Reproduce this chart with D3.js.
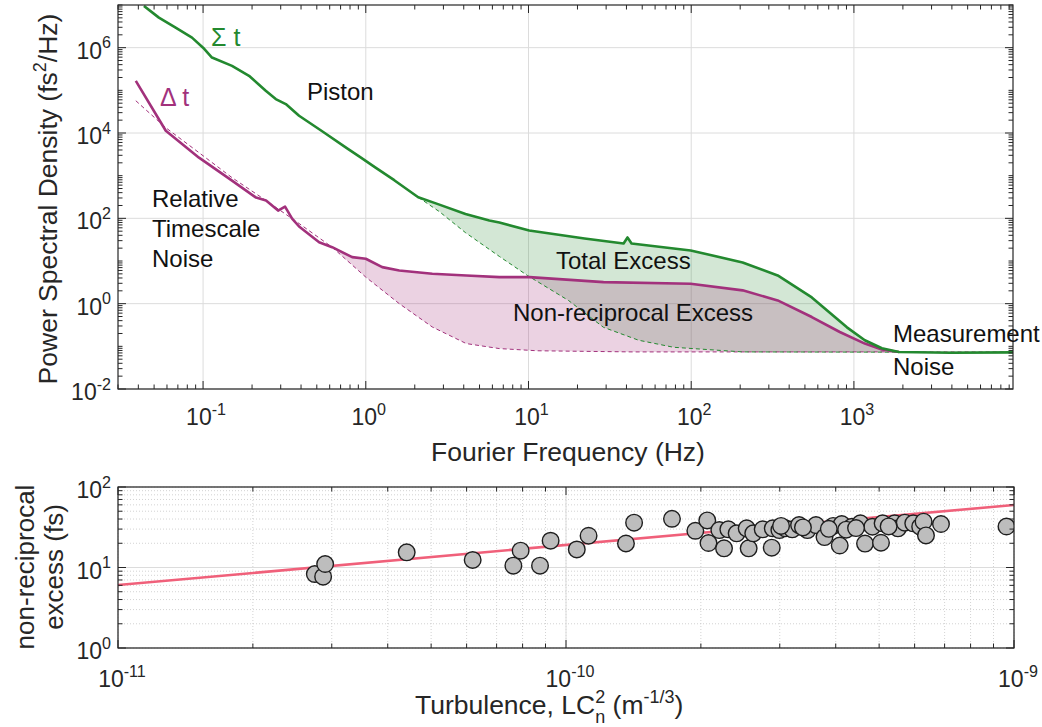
<!DOCTYPE html>
<html>
<head>
<meta charset="utf-8">
<script src="https://cdn.jsdelivr.net/npm/d3@7"></script>
<style>
  body { margin: 0; background: #fff; }
  text { font-family: "Liberation Sans", Arial, sans-serif; fill: #262626; }
</style>
</head>
<body>
<script>
// --- top panel: PSD of sum (Σt) and difference (Δt) timing
var sigmaFreq = [0.0433, 0.0535, 0.0678, 0.0855, 0.1, 0.1134, 0.1506, 0.1916, 0.2427, 0.2797, 0.3224, 0.389,
  0.545, 0.764, 0.934, 1.142, 1.496, 2.10, 2.75, 4.1, 5.745, 6.62, 10.1, 22.1, 38.4, 40.6, 43.0,
  99.2, 207, 340, 551, 906, 1167, 1485, 1892, 3900, 9500];
var sigmaPsd = [9.5e6, 5.06e6, 2.95e6, 1.72e6, 1.0e6, 5.87e5, 3.75e5, 2.19e5, 9.76e4, 6.24e4, 4.77e4, 2.54e4,
  1.07e4, 4436, 2644, 1568, 783, 312, 218, 127, 88.9, 79.8, 51.8, 33.7, 25.7, 35.6, 25.7,
  17.7, 9.25, 4.59, 1.40, 0.279, 0.139, 0.090, 0.0738, 0.0707, 0.072];

var deltaFreq = [0.0386, 0.059, 0.0944, 0.1506, 0.2116, 0.2438, 0.289, 0.319, 0.3525, 0.389, 0.5166, 0.621,
  0.8247, 1.0, 1.262, 1.606, 2.563, 4.148, 6.62, 10.13, 28.9, 99.2, 207, 340, 551, 819, 1167, 1485, 1892];
var deltaPsd = [1.67e5, 1.13e4, 2643, 766, 306.7, 260.9, 152, 188.8, 98.9, 64.3, 27.6, 21.1,
  12.3, 11.3, 7.18, 6.01, 5.03, 4.59, 4.19, 4.19, 3.20, 2.94, 2.05, 1.19, 0.486, 0.217, 0.116, 0.084, 0.074];

// dashed fits (piston / relative noise + measurement floor)
var sigmaFitFreq = [2.10, 2.83, 4.09, 6.62, 9.84, 17.6, 28.9, 47.5, 78, 207, 9500];
var sigmaFitPsd = [312, 144, 46.5, 12.8, 4.59, 1.19, 0.279, 0.139, 0.095, 0.074, 0.072];

var deltaFitFreq = [0.0386, 0.059, 0.0944, 0.1506, 0.2438, 0.389, 0.621, 1.0, 1.606, 2.563, 4.148, 6.62, 11.34, 43.6, 9500];
var deltaFitPsd = [5.7e4, 1.33e4, 3460, 900, 261, 75.6, 21.1, 4.19, 1.0, 0.284, 0.116, 0.0886, 0.0787, 0.074, 0.074];

// --- bottom panel: non-reciprocal excess vs turbulence
var turbulence = [2.75e-11, 2.87e-11, 2.90e-11, 4.41e-11, 6.19e-11, 7.63e-11, 7.92e-11, 8.75e-11, 9.24e-11,
  1.057e-10, 1.123e-10, 1.361e-10, 1.419e-10, 1.724e-10, 1.944e-10, 2.067e-10, 2.08e-10, 2.199e-10,
  2.253e-10, 2.303e-10, 2.404e-10, 2.531e-10, 2.557e-10, 2.618e-10, 2.748e-10, 2.879e-10, 2.894e-10,
  2.994e-10, 3.089e-10, 3.199e-10, 3.313e-10, 3.459e-10, 3.614e-10, 3.776e-10, 3.947e-10, 4.083e-10,
  4.125e-10, 4.349e-10, 4.541e-10, 4.65e-10, 4.83e-10, 5.048e-10, 5.09e-10, 5.414e-10, 5.508e-10,
  5.704e-10, 5.958e-10, 6.174e-10, 6.283e-10, 6.361e-10, 6.871e-10, 9.62e-10,
  3.02e-10, 3.38e-10, 3.86e-10, 4.22e-10, 4.44e-10, 5.25e-10];
var excess = [8.30, 7.69, 11.05, 15.45, 12.40, 10.53, 16.17, 10.53, 21.5,
  16.74, 24.8, 19.87, 36.0, 40.3, 28.6, 38.4, 20.15, 29.2,
  17.32, 29.8, 26.6, 30.7, 17.32, 26.6, 29.8, 17.62, 30.7,
  29.2, 30.7, 29.8, 33.7, 29.2, 33.7, 23.9, 32.8, 18.76,
  34.7, 32.1, 35.4, 19.8, 32.1, 20.3, 35.4, 35.4, 30.7,
  36.0, 35.4, 32.1, 37.1, 25.0, 34.7, 32.3,
  32.8, 31.5, 30.2, 29.5, 30.9, 32.4];
var fitTurb = [1e-11, 1e-9];
var fitExcess = [6.06, 59.8];

var topYTicks = [-2, 0, 2, 4, 6];
var topXTicks = [-1, 0, 1, 2, 3];
var botYTicks = [0, 1, 2];
var botXTicks = [-11, -10, -9];

var green = "#23892f", magenta = "#a2317c";

var svg = d3.select("body").append("svg")
    .attr("width", 1042)
    .attr("height", 727);

var x1 = d3.scaleLog().domain([0.03, 9500]).range([118, 1013]);
var y1 = d3.scaleLog().domain([1e-2, 1e7]).range([389, 5]);
var x2 = d3.scaleLog().domain([1e-11, 1e-9]).range([118, 1014]);
var y2 = d3.scaleLog().domain([1, 100]).range([648, 487]);

function pow10(e) { return Math.pow(10, e); }

function supText(g, x, y, base, exp, anchor, size) {
  var t = g.append("text").attr("x", x).attr("y", y)
    .attr("text-anchor", anchor).style("font-size", size + "px");
  t.append("tspan").text(base);
  t.append("tspan").attr("dy", -size * 0.45).style("font-size", (size * 0.7) + "px").text(exp);
  return t;
}

function frame(g, x, y, xMaj, yMaj, minorGrid) {
  var x0 = x.range()[0], xr = x.range()[1], yb = y.range()[0], yt = y.range()[1];
  var xAll = x.ticks(), yAll = y.ticks();
  if (minorGrid) {
    g.selectAll(".mgx").data(xAll).enter().append("line")
      .attr("x1", x).attr("x2", x).attr("y1", yb).attr("y2", yt)
      .attr("stroke", "#c8c8c8").attr("stroke-dasharray", "1,2").attr("stroke-width", 0.8);
    g.selectAll(".mgy").data(yAll).enter().append("line")
      .attr("y1", y).attr("y2", y).attr("x1", x0).attr("x2", xr)
      .attr("stroke", "#c8c8c8").attr("stroke-dasharray", "1,2").attr("stroke-width", 0.8);
  }
  g.selectAll(".gx").data(xMaj).enter().append("line")
    .attr("x1", x).attr("x2", x).attr("y1", yb).attr("y2", yt)
    .attr("stroke", "#dcdcdc").attr("stroke-width", 1);
  g.selectAll(".gy").data(yMaj).enter().append("line")
    .attr("y1", y).attr("y2", y).attr("x1", x0).attr("x2", xr)
    .attr("stroke", "#dcdcdc").attr("stroke-width", 1);
}

function ticksAndBox(g, x, y, xMaj, yMaj) {
  var x0 = x.range()[0], xr = x.range()[1], yb = y.range()[0], yt = y.range()[1];
  var xAll = x.ticks(), yAll = y.ticks();
  function len(v, maj) { return maj.some(function(m) { return Math.abs(m / v - 1) < 1e-6; }) ? 8 : 4.5; }
  g.selectAll(".tx").data(xAll).enter().append("path")
    .attr("d", function(d) { var l = len(d, xMaj); return "M" + x(d) + "," + yb + "v" + (-l) + "M" + x(d) + "," + yt + "v" + l; })
    .attr("stroke", "#262626").attr("stroke-width", 1);
  g.selectAll(".ty").data(yAll).enter().append("path")
    .attr("d", function(d) { var l = len(d, yMaj); return "M" + x0 + "," + y(d) + "h" + l + "M" + xr + "," + y(d) + "h" + (-l); })
    .attr("stroke", "#262626").attr("stroke-width", 1);
  g.append("rect").attr("x", x0).attr("y", yt).attr("width", xr - x0).attr("height", yb - yt)
    .attr("fill", "none").attr("stroke", "#262626").attr("stroke-width", 1.2);
}

// ---------- top panel ----------
var topG = svg.append("g");
frame(topG, x1, y1, topXTicks.map(pow10), topYTicks.map(pow10), false);

svg.append("clipPath").attr("id", "clipTop").append("rect")
  .attr("x", 118).attr("y", 5).attr("width", 895).attr("height", 384);
var plot = topG.append("g").attr("clip-path", "url(#clipTop)");

var line1 = d3.line().x(function(d) { return x1(d[0]); }).y(function(d) { return y1(d[1]); });

function zipped(f, v) { return f.map(function(d, i) { return [d, v[i]]; }); }
var sigma = zipped(sigmaFreq, sigmaPsd), delta = zipped(deltaFreq, deltaPsd);
var sigmaFit = zipped(sigmaFitFreq, sigmaFitPsd), deltaFit = zipped(deltaFitFreq, deltaFitPsd);

function band(upper, lower, f0, f1) {
  var inR = function(d) { return d[0] >= f0 && d[0] <= f1; };
  return upper.filter(inR).concat(lower.filter(inR).reverse());
}

plot.append("path").datum(band(sigma, sigmaFit, 2.0, 1900))
  .attr("d", function(d) { return line1(d) + "Z"; })
  .attr("fill", green).attr("fill-opacity", 0.2);
plot.append("path").datum(band(delta, deltaFit, 0.6, 1900))
  .attr("d", function(d) { return line1(d) + "Z"; })
  .attr("fill", magenta).attr("fill-opacity", 0.22);

plot.append("path").datum(deltaFit).attr("d", line1)
  .attr("fill", "none").attr("stroke", magenta).attr("stroke-width", 1).attr("stroke-dasharray", "4,3");
plot.append("path").datum(sigmaFit).attr("d", line1)
  .attr("fill", "none").attr("stroke", green).attr("stroke-width", 1).attr("stroke-dasharray", "4,3");
plot.append("path").datum(delta).attr("d", line1)
  .attr("fill", "none").attr("stroke", magenta).attr("stroke-width", 2.6).attr("stroke-linejoin", "round");
plot.append("path").datum(sigma).attr("d", line1)
  .attr("fill", "none").attr("stroke", green).attr("stroke-width", 2.6).attr("stroke-linejoin", "round");

ticksAndBox(topG, x1, y1, topXTicks.map(pow10), topYTicks.map(pow10));

topYTicks.forEach(function(e) {
  supText(topG, 111, y1(pow10(e)) + 11, "10", e < 0 ? "-" + (-e) : String(e), "end", 23);
});
topXTicks.forEach(function(e) {
  supText(topG, x1(pow10(e)) + 3, 425, "10", e < 0 ? "-" + (-e) : String(e), "middle", 23);
});

topG.append("text").attr("x", 568).attr("y", 461).attr("text-anchor", "middle")
  .style("font-size", "26.5px").text("Fourier Frequency (Hz)");
var yl = topG.append("text").attr("transform", "translate(57,199) rotate(-90)")
  .attr("text-anchor", "middle").style("font-size", "26.5px");
yl.append("tspan").text("Power Spectral Density (fs");
yl.append("tspan").attr("dy", -11).style("font-size", "18px").text("2");
yl.append("tspan").attr("dy", 11).text("/Hz)");

// annotations
topG.append("text").attr("x", 211).attr("y", 46).style("font-size", "25px").style("fill", green).text("\u03A3 t");
topG.append("text").attr("x", 160).attr("y", 106).style("font-size", "25px").style("fill", magenta).text("\u0394 t");
topG.append("text").attr("x", 307).attr("y", 100).style("font-size", "24px").style("fill", "#111").text("Piston");
["Relative", "Timescale", "Noise"].forEach(function(s, i) {
  topG.append("text").attr("x", 152).attr("y", 207 + i * 30).style("font-size", "24px").style("fill", "#111").text(s);
});
topG.append("text").attr("x", 556).attr("y", 269).style("font-size", "24px").style("fill", "#111").text("Total Excess");
topG.append("text").attr("x", 513).attr("y", 321).style("font-size", "24px").style("fill", "#111").text("Non-reciprocal Excess");
topG.append("text").attr("x", 893).attr("y", 342).style("font-size", "24px").style("fill", "#111").text("Measurement");
topG.append("text").attr("x", 893).attr("y", 375).style("font-size", "24px").style("fill", "#111").text("Noise");

// ---------- bottom panel ----------
var botG = svg.append("g");
frame(botG, x2, y2, botXTicks.map(pow10), botYTicks.map(pow10), true);

svg.append("clipPath").attr("id", "clipBot").append("rect")
  .attr("x", 118).attr("y", 487).attr("width", 896).attr("height", 161);
var plot2 = botG.append("g").attr("clip-path", "url(#clipBot)");

plot2.append("path").datum(zipped(fitTurb, fitExcess))
  .attr("d", d3.line().x(function(d) { return x2(d[0]); }).y(function(d) { return y2(d[1]); }))
  .attr("stroke", "#f0607a").attr("stroke-width", 2.6).attr("fill", "none");

plot2.selectAll("circle").data(zipped(turbulence, excess)).enter().append("circle")
  .attr("cx", function(d) { return x2(d[0]); })
  .attr("cy", function(d) { return y2(d[1]); })
  .attr("r", 8.3)
  .attr("fill", "#bdbdbd").attr("stroke", "#1e1e1e").attr("stroke-width", 1.4);

ticksAndBox(botG, x2, y2, botXTicks.map(pow10), botYTicks.map(pow10));

botYTicks.forEach(function(e) {
  supText(botG, 111, y2(pow10(e)) + 11, "10", String(e), "end", 23);
});
botXTicks.forEach(function(e) {
  supText(botG, x2(pow10(e)) + 4, 687, "10", "-" + (-e), "middle", 23);
});

var xl2 = botG.append("text").attr("x", 415).attr("y", 714).style("font-size", "26.5px");
xl2.append("tspan").text("Turbulence, LC");
xl2.append("tspan").attr("dy", -11).style("font-size", "18px").text("2");
xl2.append("tspan").attr("dx", -10).attr("dy", 20).style("font-size", "18px").text("n");
xl2.append("tspan").attr("dy", -9).text(" (m");
xl2.append("tspan").attr("dy", -11).style("font-size", "18px").text("-1/3");
xl2.append("tspan").attr("dy", 11).text(")");

var yl2 = botG.append("text").attr("transform", "translate(0,567) rotate(-90)")
  .attr("text-anchor", "middle").style("font-size", "26px");
yl2.append("tspan").attr("x", 0).attr("y", 34).text("non-reciprocal");
yl2.append("tspan").attr("x", 0).attr("y", 63).text("excess (fs)");
</script>
</body>
</html>
